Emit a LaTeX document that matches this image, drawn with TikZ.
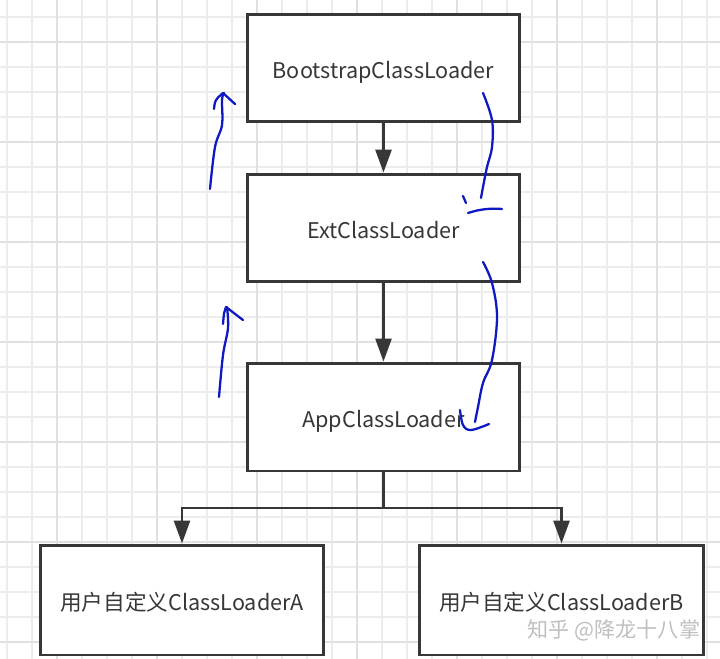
\documentclass[tikz,border=0pt]{standalone}
\usepackage{fontspec}
\setmainfont{Noto Sans CJK SC}
\usetikzlibrary{arrows.meta}
\definecolor{boxline}{RGB}{55,55,55}
\definecolor{pen}{RGB}{15,25,195}
\definecolor{gridminor}{RGB}{236,236,236}
\definecolor{gridmajor}{RGB}{224,224,224}
\tikzset{
	loader/.style={draw=boxline, line width=1.7pt, fill=white, text=boxline,
		minimum width=5.46cm, minimum height=2.16cm, text height=14.4pt, text depth=2.5pt,
		font=\fontsize{12.3}{14}\selectfont},
	userloader/.style={loader, minimum width=5.67cm, minimum height=2.2cm},
	arr/.style={draw=boxline, line width=1.7pt, -{Triangle[length=13pt, width=9pt]}},
	ink/.style={draw=pen, line width=1.3pt, line cap=round, line join=round}
}
\begin{document}
\begin{tikzpicture}[x=0.02cm, y=-0.02cm]
	\useasboundingbox (0,0) rectangle (720,659);
	\fill[white] (0,0) rectangle (720,659);
	\foreach \x in {7, 32, ..., 720}
		\draw[gridminor, line width=0.6pt] (\x, 0)--(\x, 659);
	\foreach \y in {17, 42, ..., 659}
		\draw[gridminor, line width=0.6pt] (0, \y)--(720, \y);
	\foreach \x in {57, 157, ..., 720}
		\draw[gridmajor, line width=0.7pt] (\x, 0)--(\x, 659);
	\foreach \y in {42, 142, ..., 659}
		\draw[gridmajor, line width=0.7pt] (0, \y)--(720, \y);

	\node[loader] (boot) at (383.5, 68) {BootstrapClassLoader};
	\node[loader] (ext) at (383.5, 228) {ExtClassLoader};
	\node[loader] (app) at (383.5, 417) {AppClassLoader};
	\node[userloader] (usera) at (182, 600) {用户自定义ClassLoaderA};
	\node[userloader] (userb) at (561.5, 600) {用户自定义ClassLoaderB};
	\coordinate (split) at (383.5, 508);

	\draw[arr] (boot) -- (ext);
	\draw[arr] (ext) -- (app);
	\draw[boxline, line width=1.7pt] (app.south) -- (split);
	\draw[arr] (split) -| (usera.north);
	\draw[arr] (split) -| (userb.north);

	\draw[ink] plot[smooth, tension=0.6] coordinates {(210,189) (215,147) (222,125) (222,100) (224,93)};
	\draw[ink] (214,109) .. controls (215,100) .. (223,93) -- (235,104);
	\draw[ink] plot[smooth, tension=0.6] coordinates {(219,397) (223,355) (228,328) (227,307)};
	\draw[ink] (223,324) .. controls (224,312) .. (226,307) -- (243,320);
	\draw[ink] plot[smooth, tension=0.6] coordinates {(483,93) (492,120) (492,147) (487,167) (483,187) (481,198)};
	\draw[ink] (463,196) -- (466,203);
	\draw[ink] (468,213) .. controls (480,209) and (492,208) .. (502,209);
	\draw[ink] plot[smooth, tension=0.6] coordinates {(483,262) (492,283) (497,317) (492,360) (483,383) (478,407) (475,422)};
	\draw[ink] plot[smooth, tension=0.6] coordinates {(460,410) (463,425) (471,430) (489,424)};

	\node[text=black!25, font=\fontsize{12}{14}\selectfont] (mark) at (614, 630) {知乎 @降龙十八掌};
\end{tikzpicture}
\end{document}
